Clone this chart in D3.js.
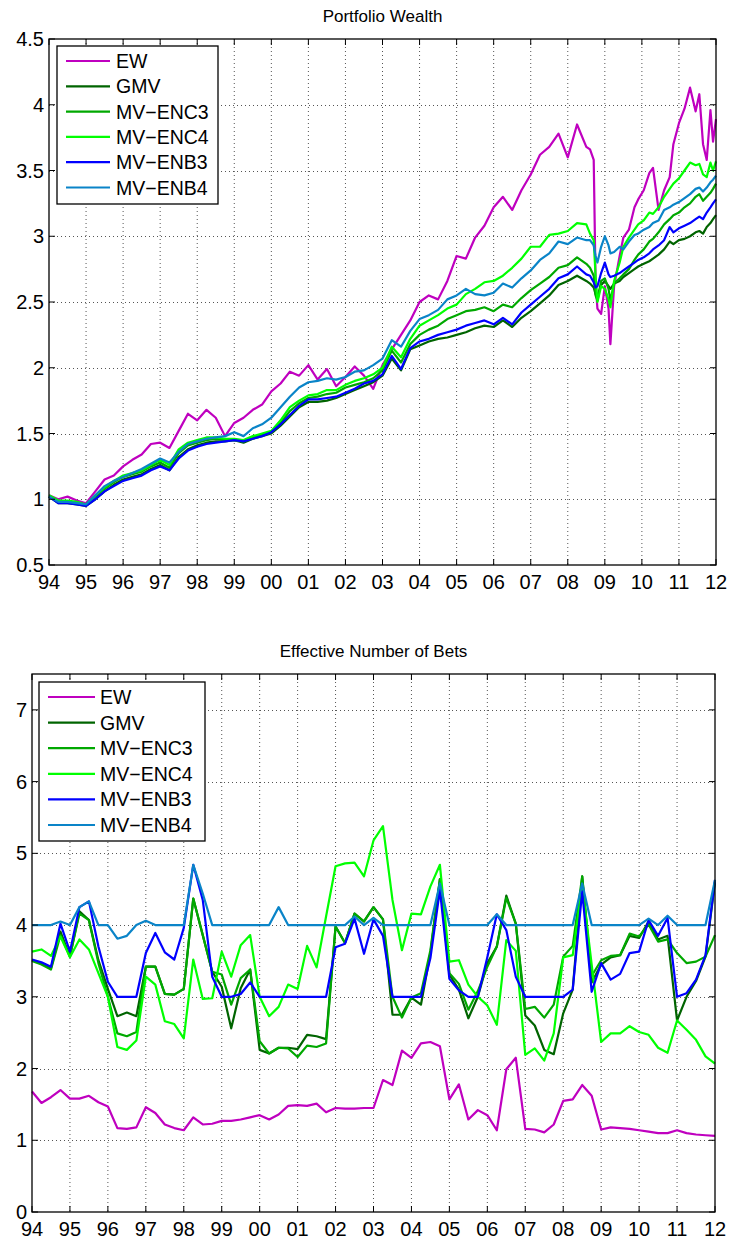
<!DOCTYPE html>
<html>
<head>
<meta charset="utf-8">
<script src="https://cdn.jsdelivr.net/npm/d3@7"></script>
<style>
  body { margin: 0; background: #fff; }
  svg { display: block; font-family: "Liberation Sans", Arial, Helvetica, sans-serif; }
</style>
</head>
<body>
<div id="chart"></div>
<script>
// ---------- data ----------
var seriesNames = ["EW", "GMV", "MV\u2212ENC3", "MV\u2212ENC4", "MV\u2212ENB3", "MV\u2212ENB4"];
var seriesColors = ["#bf00bf", "#006400", "#00a800", "#00ff00", "#0000ff", "#0a84c8"];
var yearTicks = d3.range(1994, 2013);

// portfolio wealth: quarterly up to mid 2008, denser afterwards
var wealthDates = d3.range(1994, 2008.51, 0.25).concat([
  2008.60, 2008.70, 2008.75, 2008.80, 2008.90, 2009.00, 2009.10, 2009.15, 2009.25, 2009.40,
  2009.50, 2009.65, 2009.80, 2009.90, 2010.05, 2010.20, 2010.30, 2010.45, 2010.60, 2010.75,
  2010.85, 2011.00, 2011.15, 2011.30, 2011.45, 2011.55, 2011.65, 2011.75, 2011.85, 2011.92, 2012.00]);

var wealthEW = [1.03,1.00,1.02,0.99,0.97,1.06,1.15,1.18,1.25,1.30,1.34,1.42,1.43,1.39,1.52,1.65,1.60,1.68,1.62,1.48,
  1.58,1.62,1.68,1.72,1.82,1.88,1.97,1.94,2.02,1.91,1.99,1.86,1.93,2.01,1.94,1.84,2.02,2.14,2.25,2.36,
  2.50,2.55,2.52,2.66,2.85,2.83,2.99,3.08,3.22,3.30,3.20,3.35,3.47,3.62,3.68,3.78,3.60,3.85,3.68,
  3.66,3.58,2.66,2.45,2.41,2.62,2.45,2.18,2.62,2.85,
  2.99,3.05,3.22,3.28,3.35,3.48,3.52,3.20,3.35,3.45,
  3.70,3.86,3.97,4.13,3.95,4.08,3.70,3.58,3.96,3.72,3.89];
var wealthGMV = [1.02,0.97,0.97,0.96,0.95,1.00,1.06,1.11,1.15,1.17,1.19,1.23,1.26,1.22,1.32,1.38,1.41,1.43,1.44,1.44,
  1.45,1.43,1.46,1.48,1.50,1.56,1.63,1.70,1.74,1.74,1.75,1.77,1.80,1.83,1.86,1.89,1.94,2.07,1.98,2.14,
  2.17,2.20,2.22,2.23,2.25,2.27,2.30,2.32,2.31,2.36,2.31,2.38,2.43,2.49,2.55,2.63,2.66,2.70,2.66,
  2.64,2.61,2.56,2.54,2.63,2.66,2.62,2.60,2.64,2.66,
  2.69,2.72,2.75,2.77,2.79,2.81,2.83,2.86,2.90,2.96,
  2.94,2.97,2.98,3.00,3.03,3.04,3.02,3.07,3.10,3.13,3.16];
var wealthENC3 = [1.02,0.98,0.98,0.97,0.96,1.02,1.08,1.13,1.17,1.19,1.21,1.25,1.28,1.24,1.35,1.41,1.43,1.45,1.46,1.45,
  1.45,1.44,1.47,1.49,1.51,1.58,1.67,1.73,1.77,1.78,1.80,1.81,1.85,1.87,1.89,1.92,1.98,2.13,2.04,2.18,
  2.25,2.29,2.32,2.37,2.40,2.43,2.44,2.46,2.43,2.48,2.46,2.53,2.59,2.64,2.69,2.76,2.78,2.84,2.79,
  2.76,2.70,2.55,2.51,2.66,2.68,2.60,2.51,2.64,2.68,
  2.71,2.75,2.82,2.86,2.90,2.96,2.98,3.03,3.09,3.13,
  3.16,3.18,3.22,3.25,3.30,3.32,3.27,3.30,3.33,3.36,3.40];
var wealthENC4 = [1.03,0.99,0.99,0.98,0.96,1.03,1.09,1.14,1.18,1.20,1.22,1.26,1.30,1.26,1.38,1.43,1.45,1.47,1.47,1.46,
  1.46,1.45,1.48,1.50,1.52,1.60,1.70,1.75,1.79,1.80,1.83,1.83,1.87,1.90,1.92,1.95,2.00,2.16,2.08,2.22,
  2.32,2.36,2.40,2.45,2.48,2.56,2.60,2.65,2.66,2.70,2.76,2.83,2.92,2.92,3.01,3.02,3.04,3.10,3.09,
  3.02,2.97,2.70,2.50,2.62,2.60,2.52,2.46,2.66,2.80,
  2.92,2.99,3.05,3.09,3.12,3.18,3.17,3.22,3.30,3.36,
  3.40,3.44,3.50,3.56,3.54,3.55,3.47,3.45,3.56,3.50,3.57];
var wealthENB3 = [1.02,0.97,0.97,0.96,0.95,1.00,1.06,1.10,1.14,1.16,1.18,1.22,1.25,1.22,1.31,1.37,1.40,1.42,1.43,1.44,
  1.45,1.44,1.46,1.48,1.51,1.57,1.64,1.71,1.76,1.76,1.77,1.78,1.81,1.84,1.88,1.90,1.95,2.09,1.99,2.15,
  2.20,2.22,2.25,2.27,2.29,2.32,2.34,2.36,2.33,2.38,2.33,2.42,2.48,2.54,2.60,2.68,2.71,2.77,2.71,
  2.70,2.65,2.61,2.62,2.72,2.80,2.71,2.69,2.70,2.72,
  2.74,2.77,2.80,2.82,2.84,2.87,2.90,2.93,2.97,3.07,
  3.03,3.06,3.08,3.10,3.13,3.15,3.13,3.18,3.22,3.25,3.28];
var wealthENB4 = [1.02,0.98,0.98,0.97,0.96,1.03,1.10,1.14,1.17,1.20,1.23,1.27,1.31,1.28,1.36,1.42,1.44,1.46,1.47,1.48,
  1.51,1.48,1.54,1.57,1.62,1.70,1.78,1.85,1.89,1.90,1.92,1.91,1.93,1.97,1.98,2.02,2.07,2.21,2.16,2.28,
  2.37,2.40,2.44,2.52,2.55,2.60,2.56,2.55,2.57,2.64,2.61,2.68,2.74,2.82,2.87,2.96,2.94,2.99,2.97,
  2.97,2.93,2.85,2.80,2.92,3.00,2.93,2.87,2.88,2.92,
  2.90,2.96,3.01,3.02,3.05,3.07,3.10,3.12,3.20,3.22,
  3.24,3.26,3.29,3.32,3.36,3.37,3.34,3.37,3.41,3.43,3.46];

// effective number of bets: quarterly 1994.00 ... 2012.00
var betDates = d3.range(1994, 2012.01, 0.25);
var betsEW = [1.68,1.52,1.60,1.70,1.58,1.58,1.62,1.53,1.47,1.17,1.16,1.18,1.46,1.38,1.22,1.17,1.14,1.32,1.22,1.23,1.27,1.27,1.29,1.32,1.35,
  1.29,1.36,1.48,1.49,1.48,1.51,1.39,1.45,1.44,1.44,1.45,1.45,1.84,1.77,2.25,2.15,2.35,2.37,2.31,1.57,1.78,1.29,1.42,1.35,
  1.14,1.99,2.15,1.16,1.15,1.11,1.22,1.55,1.57,1.77,1.62,1.15,1.18,1.17,1.16,1.14,1.12,1.10,1.10,1.14,1.10,1.08,1.07,1.06];
var betsGMV = [3.51,3.46,3.40,3.91,3.56,4.19,4.07,3.51,3.11,2.73,2.78,2.73,3.42,3.42,3.04,3.03,3.11,4.37,3.86,3.35,3.14,2.56,3.12,3.38,2.26,
  2.21,2.29,2.29,2.27,2.47,2.45,2.41,3.98,3.75,4.16,4.05,4.25,4.08,2.75,2.75,2.99,2.89,3.61,4.64,3.31,3.10,2.70,3.00,3.47,
  3.70,4.41,4.02,2.74,2.60,2.26,2.20,2.77,3.10,4.68,3.20,3.45,3.55,3.58,3.85,3.82,4.05,3.80,3.85,2.67,3.00,3.22,3.56,4.60];
var betsENC3 = [3.50,3.45,3.38,3.86,3.56,4.16,4.07,3.47,3.00,2.49,2.45,2.51,3.42,3.42,3.04,3.03,3.11,4.37,3.86,3.35,3.31,2.89,3.26,3.38,2.38,
  2.21,2.29,2.28,2.16,2.32,2.30,2.35,3.98,3.75,4.16,4.05,4.25,4.08,3.00,2.71,2.99,3.05,3.65,4.64,3.33,3.18,2.82,3.08,3.42,
  3.70,4.38,4.02,2.83,2.86,2.71,2.89,3.56,3.71,4.68,3.29,3.51,3.57,3.58,3.88,3.84,4.01,3.77,3.80,3.61,3.47,3.49,3.56,3.86];
var betsENC4 = [3.63,3.66,3.57,3.84,3.55,3.80,3.66,3.33,3.00,2.30,2.26,2.39,3.28,3.17,2.66,2.62,2.42,3.52,2.97,2.98,3.63,3.28,3.72,3.86,3.00,
  2.73,2.86,3.17,3.11,3.71,3.41,4.12,4.82,4.86,4.87,4.68,5.18,5.38,4.35,3.65,4.16,4.15,4.54,4.84,3.49,3.51,3.17,3.00,2.88,
  2.61,3.79,3.64,2.19,2.28,2.11,2.49,3.55,3.58,4.56,3.45,2.37,2.49,2.49,2.59,2.51,2.47,2.29,2.22,2.67,2.54,2.40,2.17,2.07];
var betsENB3 = [3.52,3.48,3.42,4.02,3.63,4.25,4.33,3.70,3.21,3.00,3.00,3.00,3.61,3.89,3.62,3.52,3.96,4.84,4.35,3.28,3.00,3.00,3.04,3.20,3.00,
  3.00,3.00,3.00,3.00,3.00,3.00,3.00,3.69,3.74,4.09,3.60,4.08,3.85,3.00,3.00,3.00,3.00,3.54,4.49,3.25,3.09,3.00,3.00,3.55,
  4.15,3.93,3.28,3.00,3.00,3.00,3.00,3.00,3.10,4.47,3.07,3.47,3.24,3.32,3.61,3.63,4.07,3.85,4.10,3.00,3.05,3.24,3.58,4.63];
var betsENB4 = [4.00,4.00,4.00,4.05,4.00,4.25,4.33,4.00,4.00,3.81,3.85,4.00,4.06,4.00,4.00,4.00,4.00,4.84,4.44,4.00,4.00,4.00,4.00,4.00,4.00,
  4.00,4.25,4.00,4.00,4.00,4.00,4.00,4.00,4.00,4.12,4.00,4.10,4.00,4.00,4.00,4.00,4.00,4.00,4.58,4.00,4.00,4.00,4.00,4.00,
  4.15,4.00,4.00,4.00,4.00,4.00,4.00,4.00,4.00,4.58,4.00,4.00,4.00,4.00,4.00,4.00,4.09,4.00,4.13,4.00,4.00,4.00,4.00,4.63];

var wealthSeries = [wealthEW, wealthGMV, wealthENC3, wealthENC4, wealthENB3, wealthENB4];
var betSeries = [betsEW, betsGMV, betsENC3, betsENC4, betsENB3, betsENB4];
var wealthTicks = d3.range(0.5, 4.51, 0.5);
var betTicks = d3.range(0, 8, 1);

// ---------- drawing ----------
var svg = d3.select("#chart").append("svg")
    .attr("width", 730)
    .attr("height", 1241);

function drawPanel(opt) {
    var x = d3.scaleLinear().domain([1994, 2012]).range([opt.left, opt.right]);
    var y = d3.scaleLinear().domain(opt.yDomain).range([opt.bottom, opt.top]);
    var g = svg.append("g");
    var tickLen = 6;

    // dotted grid
    g.selectAll(".vgrid").data(yearTicks.slice(1, -1)).enter().append("line")
        .attr("x1", d => x(d)).attr("x2", d => x(d))
        .attr("y1", opt.top).attr("y2", opt.bottom)
        .style("stroke", "#555").style("stroke-width", 1).style("stroke-dasharray", "1,3");
    g.selectAll(".hgrid").data(opt.yTicks.filter(d => d > opt.yDomain[0] && d < opt.yDomain[1])).enter().append("line")
        .attr("x1", opt.left).attr("x2", opt.right)
        .attr("y1", d => Math.round(y(d)) + 0.5).attr("y2", d => Math.round(y(d)) + 0.5)
        .style("stroke", "#555").style("stroke-width", 1).style("stroke-dasharray", "1,3");

    // series lines
    var line = d3.line()
        .x((d, i) => x(opt.dates[i]))
        .y(d => y(d));
    opt.series.forEach(function(s, k) {
        g.append("path")
            .datum(s)
            .attr("d", line)
            .style("fill", "none")
            .style("stroke", seriesColors[k])
            .style("stroke-width", 2.2)
            .style("stroke-linejoin", "round");
    });

    // ticks inside on all four sides
    yearTicks.forEach(function(t) {
        g.append("line").attr("x1", x(t)).attr("x2", x(t)).attr("y1", opt.bottom).attr("y2", opt.bottom - tickLen)
            .style("stroke", "#000");
        g.append("line").attr("x1", x(t)).attr("x2", x(t)).attr("y1", opt.top).attr("y2", opt.top + tickLen)
            .style("stroke", "#000");
    });
    opt.yTicks.forEach(function(t) {
        g.append("line").attr("x1", opt.left).attr("x2", opt.left + tickLen).attr("y1", y(t)).attr("y2", y(t))
            .style("stroke", "#000");
        g.append("line").attr("x1", opt.right).attr("x2", opt.right - tickLen).attr("y1", y(t)).attr("y2", y(t))
            .style("stroke", "#000");
    });

    // box
    g.append("rect")
        .attr("x", opt.left).attr("y", opt.top)
        .attr("width", opt.right - opt.left).attr("height", opt.bottom - opt.top)
        .style("fill", "none").style("stroke", "#000").style("stroke-width", 1.3);

    // tick labels
    g.selectAll(".xlab").data(yearTicks).enter().append("text")
        .attr("x", d => x(d)).attr("y", opt.bottom + 24)
        .attr("text-anchor", "middle")
        .style("font-size", "20px")
        .text(d => String(d % 100).padStart(2, "0"));
    g.selectAll(".ylab").data(opt.yTicks).enter().append("text")
        .attr("x", opt.left - 5).attr("y", d => y(d) + 7)
        .attr("text-anchor", "end")
        .style("font-size", "20px")
        .text(d => opt.yFormat(d));

    // title
    g.append("text")
        .attr("x", (opt.left + opt.right) / 2).attr("y", opt.top - 17)
        .attr("text-anchor", "middle")
        .style("font-size", "17px")
        .text(opt.title);

    // legend
    var lg = opt.legend;
    g.append("rect")
        .attr("x", lg.x).attr("y", lg.y).attr("width", lg.w).attr("height", lg.h)
        .style("fill", "#fff").style("stroke", "#000").style("stroke-width", 1.3);
    seriesNames.forEach(function(name, k) {
        var ly = lg.y0 + k * lg.step;
        g.append("line")
            .attr("x1", lg.lx1).attr("x2", lg.lx2).attr("y1", ly).attr("y2", ly)
            .style("stroke", seriesColors[k]).style("stroke-width", 2.2);
        g.append("text")
            .attr("x", lg.tx).attr("y", ly + 7)
            .style("font-size", "19.5px")
            .text(name);
    });
}

drawPanel({
    left: 49, right: 716, top: 39, bottom: 565,
    yDomain: [0.5, 4.5], yTicks: wealthTicks,
    yFormat: d => (d % 1 === 0 ? String(d) : d.toFixed(1)),
    dates: wealthDates, series: wealthSeries,
    title: "Portfolio Wealth",
    legend: { x: 57, y: 46, w: 161, h: 158, y0: 61, step: 25.3, lx1: 66, lx2: 110, tx: 116 }
});

drawPanel({
    left: 32, right: 715, top: 674, bottom: 1212,
    yDomain: [0, 7.5], yTicks: betTicks,
    yFormat: d => String(d),
    dates: betDates, series: betSeries,
    title: "Effective Number of Bets",
    legend: { x: 39, y: 682, w: 166, h: 159, y0: 697, step: 25.6, lx1: 48, lx2: 95, tx: 100 }
});
</script>
</body>
</html>
